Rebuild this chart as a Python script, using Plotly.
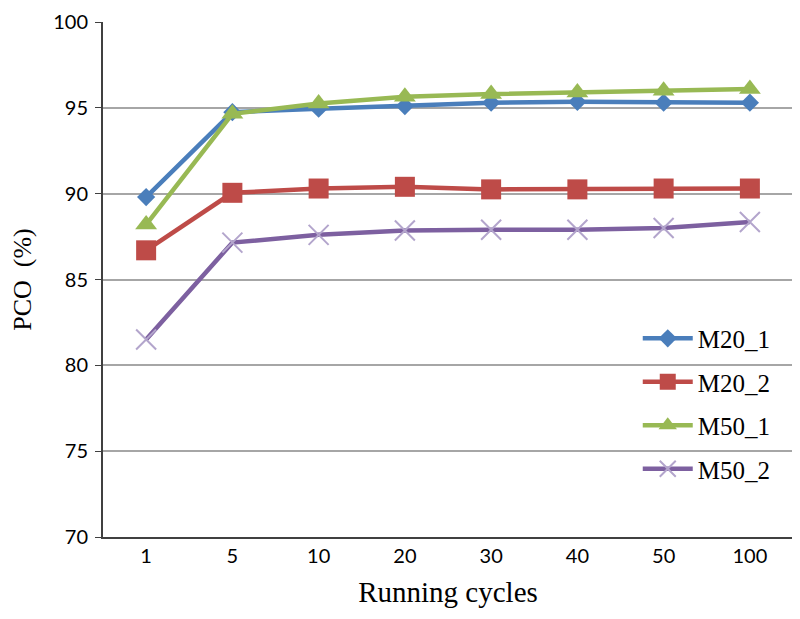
import plotly.graph_objects as go

cycles = ["1", "5", "10", "20", "30", "40", "50", "100"]
m20_1 = [89.8, 94.75, 94.95, 95.1, 95.3, 95.35, 95.3, 95.3]
m20_2 = [86.7, 90.05, 90.3, 90.4, 90.25, 90.25, 90.3, 90.3]
m50_1 = [88.2, 94.65, 95.25, 95.65, 95.8, 95.9, 96.0, 96.1]
m50_2 = [81.5, 87.15, 87.6, 87.85, 87.9, 87.9, 88.0, 88.35]
y_ticks = [70, 75, 80, 85, 90, 95, 100]

series = [
    ("M20_1", m20_1, "#4A7EBB", dict(symbol="diamond", size=14, color="#4A7EBB")),
    ("M20_2", m20_2, "#BE4B48", dict(symbol="square", size=20, color="#BE4B48")),
    ("M50_1", m50_1, "#98B954", dict(symbol="triangle-up", size=19, color="#98B954")),
    ("M50_2", m50_2, "#7D60A0", dict(symbol="x-thin", size=20,
                                     line=dict(color="#B3A5CC", width=2))),
]

fig = go.Figure()
for name, vals, col, mk in series:
    fig.add_trace(go.Scatter(
        x=cycles, y=vals, name=name, mode="lines+markers",
        line=dict(color=col, width=4.5), marker=mk, legendgroup=name,
    ))

serif = "Liberation Serif, Times New Roman, serif"
sans = "Lato, Open Sans, sans-serif"

fig.update_layout(
    width=800, height=619,
    margin=dict(l=95, r=15, t=14, b=90, autoexpand=False),
    paper_bgcolor="white", plot_bgcolor="white",
    showlegend=True,
    legend=dict(x=0.775, y=0.43, xanchor="left", yanchor="top",
                bgcolor="rgba(0,0,0,0)", tracegroupgap=8,
                font=dict(family=serif, size=25, color="black"),
                itemwidth=50),
    xaxis=dict(type="category", range=[-0.5, 7.5], showgrid=False, automargin=False,
               showline=True, linecolor="#404040", linewidth=2,
               ticks="", tickfont=dict(family=sans, size=20, color="black"),
               title=dict(text="Running cycles", standoff=16,
                          font=dict(family=serif, size=29, color="black"))),
    yaxis=dict(range=[70, 100], tickvals=y_ticks, showgrid=True, automargin=False,
               gridcolor="#A6A6A6", gridwidth=1.5,
               showline=True, linecolor="#404040", linewidth=2,
               ticks="outside", ticklen=6, tickcolor="#404040",
               ticklabelstandoff=3, ticklabeloverflow="allow",
               tickfont=dict(family=sans, size=20, color="black"),
               title=dict(text="PCO  (%)", standoff=17,
                          font=dict(family=serif, size=26, color="black"))),
)

fig.write_html("out.html")
